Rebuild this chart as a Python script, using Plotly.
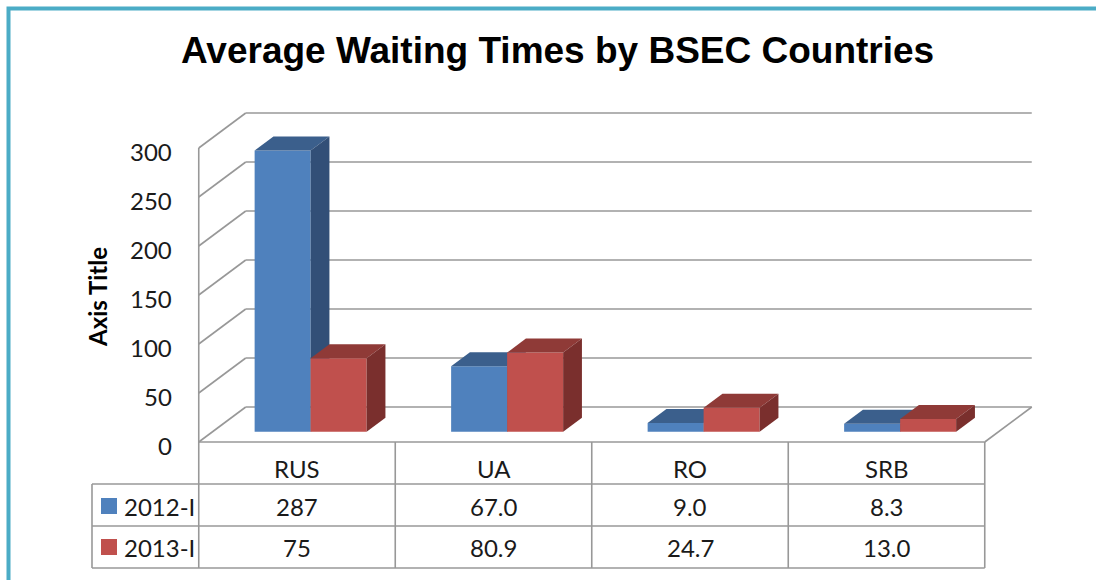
import plotly.graph_objects as go

# ---------------- data ----------------
categories = ["RUS", "UA", "RO", "SRB"]
series_names = ["2012-I", "2013-I"]
values_2012 = [287, 67.0, 9.0, 8.3]
values_2013 = [75, 80.9, 24.7, 13.0]
table_2012 = ["287", "67.0", "9.0", "8.3"]
table_2013 = ["75", "80.9", "24.7", "13.0"]
y_ticks = [0, 50, 100, 150, 200, 250, 300]
title_text = "Average Waiting Times by BSEC Countries"
y_title = "Axis Title"

# ---------------- geometry / style ----------------
W, H = 1096, 580
X0, SX = 297.0, 196.5      # px of first category centre, px per category
Y0, SY = 442.0, 0.98       # px of value 0 (front plane), px per value unit


def px_to_x(px):
    return (px - X0) / SX


def py_to_v(py):
    return (Y0 - py) / SY


DX = 47.0 / SX             # full depth, x component (data units)
DV = 35.0 / SY             # full depth, y component (data units)
F1, F2 = 0.29, 0.69        # bar depth start / end (fraction of full depth)
BW = 56.0 / SX             # bar width (data units)
XL, XR = -0.5, len(categories) - 0.5
VMAX = y_ticks[-1]

GRID = "#989898"
TXT = "#1a1a1a"
FONT = "Lato"
FS = 24
colors = {
    "2012-I": {"front": "#4F81BD", "top": "#3B5F8C", "side": "#324F77"},
    "2013-I": {"front": "#C0504D", "top": "#8F3A37", "side": "#7A2F2D"},
}


def P(x, v, f):
    return (x + f * DX, v + f * DV)


fig = go.Figure()
shapes = []
annotations = []


def line(p, q, color=GRID, width=1.6, layer="below"):
    shapes.append(dict(type="line", xref="x", yref="y", x0=p[0], y0=p[1],
                       x1=q[0], y1=q[1], line=dict(color=color, width=width),
                       layer=layer))


# back wall gridlines and left wall diagonals
for t in y_ticks:
    line(P(XL, t, 1), P(XR, t, 1))
    line(P(XL, t, 0), P(XL, t, 1))
# floor
line(P(XL, 0, 0), P(XR, 0, 0))
line(P(XR, 0, 0), P(XR, 0, 1))

# table
row_lines_py = [442, 484, 526, 568]
label_left_px = 92
v_rows = [py_to_v(p) for p in row_lines_py]
line((XL, VMAX), (XL, v_rows[-1]))
for k in range(1, len(categories) + 1):
    line((XL + k, 0), (XL + k, v_rows[-1]))
for vr in v_rows[1:]:
    line((px_to_x(label_left_px), vr), (XR, vr))
line((px_to_x(label_left_px), v_rows[1]), (px_to_x(label_left_px), v_rows[-1]))

# ---------------- bars (3D faces computed from the data) ----------------
series_values = [values_2012, values_2013]
for i, cat in enumerate(categories):
    for s, name in enumerate(series_names):
        h = series_values[s][i]
        L = i + (s - 1) * BW
        R = L + BW
        c = colors[name]
        faces = {
            "front": [P(L, 0, F1), P(R, 0, F1), P(R, h, F1), P(L, h, F1)],
            "top": [P(L, h, F1), P(R, h, F1), P(R, h, F2), P(L, h, F2)],
            "side": [P(R, 0, F1), P(R, 0, F2), P(R, h, F2), P(R, h, F1)],
        }
        for face in ["front", "top", "side"]:
            pts = faces[face] + [faces[face][0]]
            fig.add_trace(go.Scatter(
                x=[p[0] for p in pts], y=[p[1] for p in pts],
                mode="lines", fill="toself", fillcolor=c[face],
                line=dict(width=0, color=c[face]),
                name=name, legendgroup=name, showlegend=False,
                hoverinfo="text" if face == "front" else "skip",
                text=f"{cat} {name}: {h}",
            ))

# ---------------- text ----------------
annotations.append(dict(
    text=f"<b>{title_text}</b>", xref="paper", yref="paper",
    x=557 / W, y=1 - 50 / H, xanchor="center", yanchor="middle",
    showarrow=False, font=dict(family="Liberation Sans", size=37, color="#000")))

for t in y_ticks:
    annotations.append(dict(
        text=str(t), xref="x", yref="y", x=XL, y=t, xanchor="right",
        yanchor="middle", xshift=-25, yshift=-3, showarrow=False,
        font=dict(family=FONT, size=FS, color=TXT)))

annotations.append(dict(
    text=f"<b>{y_title}</b>", xref="x", yref="y", x=px_to_x(97), y=py_to_v(297),
    textangle=-90, xanchor="center", yanchor="middle", showarrow=False,
    font=dict(family=FONT, size=FS, color="#000")))

row_text_py = [468, 506, 547]
for i, cat in enumerate(categories):
    annotations.append(dict(text=cat, xref="x", yref="y", x=i, y=py_to_v(row_text_py[0]),
                            showarrow=False, font=dict(family=FONT, size=FS, color=TXT)))
    annotations.append(dict(text=table_2012[i], xref="x", yref="y", x=i, y=py_to_v(row_text_py[1]),
                            showarrow=False, font=dict(family=FONT, size=FS, color=TXT)))
    annotations.append(dict(text=table_2013[i], xref="x", yref="y", x=i, y=py_to_v(row_text_py[2]),
                            showarrow=False, font=dict(family=FONT, size=FS, color=TXT)))

for s, name in enumerate(series_names):
    cy = row_text_py[s + 1]
    shapes.append(dict(type="rect", xref="x", yref="y",
                       x0=px_to_x(101), x1=px_to_x(117),
                       y0=py_to_v(cy - 8), y1=py_to_v(cy + 8),
                       fillcolor=colors[name]["front"], line=dict(width=0)))
    annotations.append(dict(text=name, xref="x", yref="y", x=px_to_x(122), y=py_to_v(cy),
                            xanchor="left", showarrow=False,
                            font=dict(family=FONT, size=FS, color=TXT)))

# outer frame
shapes.append(dict(type="rect", xref="paper", yref="paper",
                   x0=8.5 / W, x1=1.3, y0=-0.3, y1=1 - 8.5 / H,
                   line=dict(color="#4BACC6", width=4), fillcolor="rgba(0,0,0,0)",
                   layer="above"))

fig.update_layout(
    width=W, height=H,
    margin=dict(l=0, r=0, t=0, b=0),
    paper_bgcolor="white", plot_bgcolor="white",
    showlegend=False,
    xaxis=dict(range=[px_to_x(0), px_to_x(W)], visible=False, fixedrange=True),
    yaxis=dict(range=[py_to_v(H), py_to_v(0)], visible=False, fixedrange=True),
    shapes=shapes, annotations=annotations,
)

fig.write_html("out.html", config={"displayModeBar": False},
               post_script="document.body.style.margin='0';document.body.style.overflow='hidden';")
